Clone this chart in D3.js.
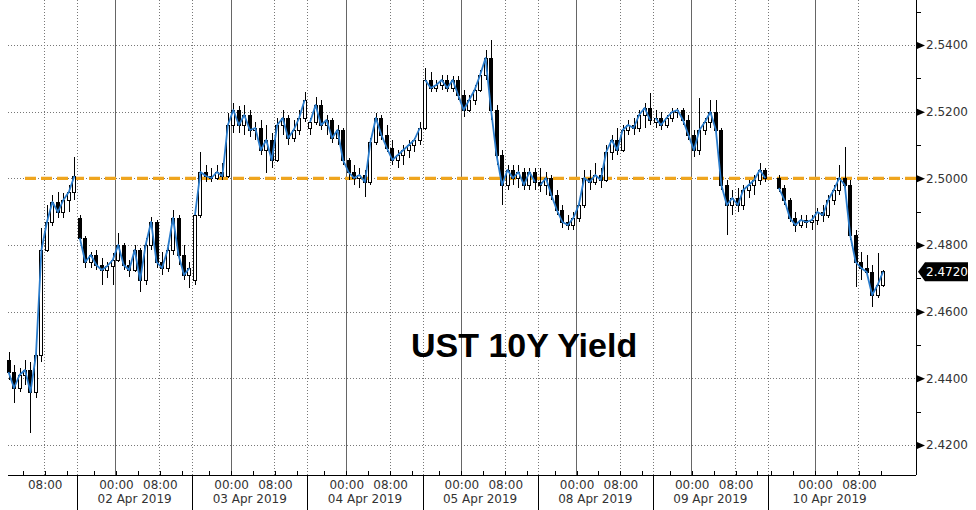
<!DOCTYPE html>
<html><head><meta charset="utf-8">
<script src="https://cdn.jsdelivr.net/npm/d3@7"></script>
<style>body{margin:0;background:#fff}svg{display:block}</style>
</head><body>
<svg id="chart" width="976" height="510"></svg>
<script>
// ---------- data ----------
const sessionLabels = [null,'02 Apr 2019','03 Apr 2019','04 Apr 2019','05 Apr 2019','08 Apr 2019','09 Apr 2019','10 Apr 2019'];
const sessionFrom   = [1.4,-7,-7,-7,-7,-7,-7,-8.5]; // hours vs. midnight of session day
const sessionTo     = [14,14,14,14,14,14,14,14];
const firstBarHour  = [1,-7,-7,-7,-7,-7,-7,-7];
const barCount      = [13,21,21,21,21,21,21,20];
const tailHours = 4.5;

const open = [
2.4455,2.4419,2.4371,2.4410,2.4425,2.4359,2.4470,2.4785,2.4869,2.4929,2.4899,2.4935,2.4959,
2.4881,2.4821,2.4749,2.4770,2.4740,2.4725,2.4737,2.4755,2.4800,2.4740,2.4725,2.4785,2.4695,2.4800,2.4869,2.4749,2.4731,2.4785,2.4881,2.4770,2.4710,
2.4695,2.4890,2.5019,2.5007,2.5001,2.5019,2.5007,2.5160,2.5205,2.5160,2.5190,2.5145,2.5151,2.5085,2.5115,2.5055,2.5160,2.5181,2.5121,2.5145,2.5181,
2.5151,2.5169,2.5220,2.5160,2.5175,2.5121,2.5145,2.5055,2.5019,2.5001,2.5010,2.4989,2.5109,2.5181,2.5130,2.5091,2.5055,2.5070,2.5085,2.5100,2.5115,
2.5151,2.5295,2.5271,2.5280,2.5295,2.5271,2.5295,2.5250,2.5205,2.5235,2.5265,2.5310,2.5361,2.5205,2.5070,2.4980,2.5025,2.5001,2.5019,2.4980,2.5019,
2.4989,2.4980,2.5001,2.4950,2.4905,2.4869,2.4860,2.4881,2.4920,2.5001,2.4989,2.5010,2.4995,2.5079,2.5115,2.5085,2.5145,2.5160,2.5151,2.5190,2.5211,
2.5169,2.5181,2.5160,2.5181,2.5199,2.5205,2.5175,2.5130,2.5085,2.5145,2.5169,2.5199,2.5145,2.4980,2.4920,2.4941,2.4920,2.4965,2.4980,2.4995,2.5025,
2.5001,2.4971,2.4935,2.4881,2.4860,2.4875,2.4869,2.4875,2.4899,2.4890,2.4935,2.4965,2.5001,2.4980,2.4830,2.4749,2.4731,2.4719,2.4650,2.4680];
const high = [
2.4479,2.4440,2.4431,2.4455,2.4449,2.4494,2.4851,2.4920,2.4950,2.4959,2.4956,2.4980,2.5064,
2.4890,2.4827,2.4779,2.4785,2.4761,2.4749,2.4776,2.4836,2.4806,2.4755,2.4800,2.4791,2.4821,2.4884,2.4875,2.4779,2.4800,2.4905,2.4890,2.4800,2.4749,
2.4905,2.5079,2.5040,2.5031,2.5040,2.5046,2.5196,2.5226,2.5217,2.5220,2.5205,2.5169,2.5175,2.5160,2.5136,2.5181,2.5205,2.5190,2.5175,2.5205,2.5259,
2.5181,2.5244,2.5235,2.5190,2.5181,2.5160,2.5151,2.5061,2.5040,2.5031,2.5025,2.5121,2.5196,2.5190,2.5160,2.5115,2.5085,2.5100,2.5115,2.5121,2.5169,
2.5331,2.5319,2.5295,2.5310,2.5310,2.5307,2.5307,2.5265,2.5250,2.5280,2.5325,2.5385,2.5415,2.5220,2.5085,2.5040,2.5040,2.5040,2.5031,2.5031,2.5031,
2.5031,2.5019,2.5010,2.4965,2.4920,2.4890,2.4899,2.4935,2.5025,2.5025,2.5046,2.5031,2.5100,2.5130,2.5151,2.5160,2.5175,2.5181,2.5205,2.5226,2.5256,
2.5205,2.5199,2.5190,2.5211,2.5211,2.5211,2.5190,2.5145,2.5241,2.5181,2.5235,2.5235,2.5151,2.4995,2.4965,2.4971,2.4980,2.4995,2.5010,2.5046,2.5031,
2.5010,2.4980,2.4941,2.4899,2.4890,2.4890,2.4890,2.4911,2.4920,2.4950,2.4980,2.5040,2.5094,2.4995,2.4845,2.4779,2.4770,2.4740,2.4776,2.4725];
const low = [
2.4395,2.4326,2.4359,2.4380,2.4236,2.4341,2.4449,2.4779,2.4857,2.4881,2.4881,2.4899,2.4935,
2.4815,2.4731,2.4731,2.4725,2.4680,2.4701,2.4680,2.4749,2.4725,2.4704,2.4719,2.4659,2.4680,2.4785,2.4731,2.4710,2.4719,2.4770,2.4740,2.4695,2.4671,
2.4680,2.4881,2.4989,2.4989,2.4995,2.4995,2.5001,2.5136,2.5136,2.5130,2.5124,2.5115,2.5070,2.5016,2.5031,2.5049,2.5130,2.5100,2.5109,2.5130,2.5169,
2.5130,2.5160,2.5145,2.5130,2.5106,2.5100,2.5040,2.4995,2.4980,2.4971,2.4944,2.4980,2.5100,2.5115,2.5079,2.5040,2.5031,2.5040,2.5061,2.5079,2.5100,
2.5145,2.5259,2.5259,2.5265,2.5259,2.5259,2.5235,2.5184,2.5199,2.5220,2.5259,2.5295,2.5175,2.5040,2.4920,2.4965,2.4980,2.4971,2.4965,2.4965,2.4965,
2.4959,2.4950,2.4935,2.4890,2.4851,2.4845,2.4845,2.4869,2.4911,2.4965,2.4980,2.4971,2.4989,2.5055,2.5070,2.5079,2.5130,2.5130,2.5139,2.5151,2.5160,
2.5151,2.5145,2.5151,2.5169,2.5181,2.5160,2.5115,2.5064,2.5070,2.5130,2.5151,2.5130,2.4965,2.4830,2.4890,2.4899,2.4905,2.4941,2.4950,2.4980,2.4989,
2.4959,2.4920,2.4869,2.4839,2.4851,2.4851,2.4845,2.4860,2.4869,2.4881,2.4920,2.4950,2.4965,2.4815,2.4674,2.4695,2.4710,2.4614,2.4641,2.4674];
const close = [
2.4419,2.4371,2.4410,2.4425,2.4359,2.4470,2.4785,2.4869,2.4929,2.4899,2.4935,2.4959,2.5007,
2.4821,2.4749,2.4770,2.4740,2.4725,2.4737,2.4755,2.4800,2.4740,2.4725,2.4785,2.4695,2.4800,2.4869,2.4749,2.4731,2.4785,2.4881,2.4770,2.4710,2.4731,
2.4890,2.5019,2.5007,2.5001,2.5019,2.5007,2.5160,2.5205,2.5160,2.5190,2.5145,2.5151,2.5085,2.5115,2.5055,2.5160,2.5181,2.5121,2.5145,2.5181,2.5235,
2.5169,2.5220,2.5160,2.5175,2.5121,2.5145,2.5055,2.5019,2.5001,2.5010,2.4989,2.5109,2.5181,2.5130,2.5091,2.5055,2.5070,2.5085,2.5100,2.5115,2.5151,
2.5295,2.5271,2.5280,2.5295,2.5271,2.5295,2.5250,2.5205,2.5235,2.5265,2.5310,2.5361,2.5205,2.5070,2.4980,2.5025,2.5001,2.5019,2.4980,2.5019,2.4989,
2.4980,2.5001,2.4950,2.4905,2.4869,2.4860,2.4881,2.4920,2.5001,2.4989,2.5010,2.4995,2.5079,2.5115,2.5085,2.5145,2.5160,2.5151,2.5190,2.5211,2.5175,
2.5181,2.5160,2.5181,2.5199,2.5205,2.5175,2.5130,2.5085,2.5145,2.5169,2.5199,2.5145,2.4980,2.4920,2.4941,2.4920,2.4965,2.4980,2.4995,2.5025,2.5001,
2.4971,2.4935,2.4881,2.4860,2.4875,2.4869,2.4875,2.4899,2.4890,2.4935,2.4965,2.5001,2.4980,2.4830,2.4749,2.4731,2.4719,2.4650,2.4680,2.4720];

const yTicks = [2.42,2.44,2.46,2.48,2.50,2.52,2.54];
const yMinorTicks = [2.43,2.45,2.47,2.49,2.51,2.53,2.55];
const refLevel = 2.50;
const lastValue = 2.4720;
const titleText = 'UST 10Y Yield';

// ---------- layout ----------
const W = 976, H = 510;
const plot = {left: 8, right: 916, top: 0, bottom: 475};
const font = "Tahoma, 'DejaVu Sans', sans-serif";

// compressed (gap-free) session time
const offsets = [];
let acc = 0;
sessionFrom.forEach((f, i) => { offsets.push(acc); acc += sessionTo[i] - f; });
const totalHours = acc + tailHours;
const pos = (i, h) => offsets[i] + h - sessionFrom[i];

const x = d3.scaleLinear().domain([0, totalHours]).range([plot.left, plot.right]);
const y = d3.scaleLinear().domain([2.411, 2.5535]).range([plot.bottom, plot.top]);

const bars = [];
let idx = 0;
barCount.forEach((n, s) => {
  for (let k = 0; k < n; k++) {
    const h = firstBarHour[s] + k;
    bars.push({s, t: pos(s, h + 0.5), o: open[idx], h: high[idx], l: low[idx], c: close[idx]});
    idx++;
  }
});

const svg = d3.select('#chart');
svg.append('rect').attr('width', W).attr('height', H).attr('fill', '#fff');

const grid = svg.append('g').attr('shape-rendering', 'crispEdges');
// horizontal dotted grid
grid.selectAll('line.hg').data(yTicks).join('line')
  .attr('x1', plot.left).attr('x2', plot.right)
  .attr('y1', d => Math.round(y(d)) + 0.5).attr('y2', d => Math.round(y(d)) + 0.5)
  .attr('stroke', '#777').attr('stroke-dasharray', '1,2');

// vertical time grid
const vLines = [], minorTicks = [], timeLabels = [];
sessionFrom.forEach((f, i) => {
  for (let h = Math.ceil(f); h <= sessionTo[i]; h++) {
    const hh = ((h % 24) + 24) % 24;
    if (hh % 4 === 0) minorTicks.push(pos(i, h));
    if (hh === 0) { vLines.push({t: pos(i, h), solid: true}); timeLabels.push({t: pos(i, h), txt: '00:00'}); }
    if (hh === 8) { vLines.push({t: pos(i, h), solid: false}); timeLabels.push({t: pos(i, h), txt: '08:00'}); }
  }
  if (i > 0) vLines.push({t: offsets[i], solid: false, boundary: true});
});
grid.selectAll('line.vg').data(vLines).join('line')
  .attr('x1', d => Math.round(x(d.t)) + 0.5).attr('x2', d => Math.round(x(d.t)) + 0.5)
  .attr('y1', plot.top).attr('y2', plot.bottom)
  .attr('stroke', d => d.solid ? '#666' : '#777')
  .attr('stroke-dasharray', d => d.solid ? null : '1,2');

// reference level
svg.append('line')
  .attr('x1', 25).attr('x2', plot.right)
  .attr('y1', y(refLevel)).attr('y2', y(refLevel))
  .attr('stroke', '#EFA51E').attr('stroke-width', 3.2).attr('stroke-dasharray', '11,5');

// candles
const cg = svg.append('g').attr('shape-rendering', 'crispEdges');
cg.selectAll('line.wick').data(bars).join('line')
  .attr('x1', d => Math.round(x(d.t)) + 0.5).attr('x2', d => Math.round(x(d.t)) + 0.5)
  .attr('y1', d => y(d.h)).attr('y2', d => y(d.l))
  .attr('stroke', '#000');
cg.selectAll('rect.body').data(bars).join('rect')
  .attr('x', d => Math.round(x(d.t)) - 1.5)
  .attr('width', 4 - 1)
  .attr('y', d => Math.min(y(d.o), y(d.c)))
  .attr('height', d => Math.max(1, Math.abs(y(d.o) - y(d.c))))
  .attr('fill', d => d.c >= d.o ? '#fff' : '#000')
  .attr('stroke', '#000').attr('stroke-width', 1);

// close line, broken between sessions
const line = d3.line().x(d => x(d.t)).y(d => y(d.c));
d3.groups(bars, d => d.s).forEach(([s, arr]) => {
  svg.append('path').datum(arr).attr('d', line)
    .attr('fill', 'none').attr('stroke', '#2a7ccc').attr('stroke-width', 1.8)
    .attr('stroke-linejoin', 'round');
});

// y axis (right)
const yAxisG = svg.append('g').attr('transform', `translate(${plot.right},0)`);
yAxisG.append('line').attr('x1', 0.5).attr('x2', 0.5).attr('y1', plot.top).attr('y2', plot.bottom)
  .attr('stroke', '#000').attr('shape-rendering', 'crispEdges');
const yMinorAxis = d3.axisRight(y).tickValues(yMinorTicks).tickSize(5).tickFormat('');
yAxisG.append('g').call(yMinorAxis).call(g => g.select('.domain').remove())
  .selectAll('line').attr('stroke', '#000').attr('shape-rendering', 'crispEdges');
const yAxis = d3.axisRight(y).tickValues(yTicks).tickSize(0).tickPadding(10).tickFormat(d3.format('.4f'));
const ya = yAxisG.append('g').call(yAxis);
ya.select('.domain').remove();
ya.selectAll('text').attr('font-family', font).attr('font-size', 12).attr('fill', '#333');
ya.selectAll('.tick').append('path').attr('d', 'M1,-3.5L9,0L1,3.5Z').attr('fill', '#000');

// last value tag
const ly = y(lastValue);
svg.append('path')
  .attr('d', `M${plot.right + 2},${ly}L${plot.right + 9},${ly - 9.5}L${plot.right + 52},${ly - 9.5}L${plot.right + 52},${ly + 9.5}L${plot.right + 9},${ly + 9.5}Z`)
  .attr('fill', '#000');
svg.append('text').attr('x', plot.right + 10).attr('y', ly).attr('dy', '0.36em')
  .attr('font-family', font).attr('font-size', 12).attr('fill', '#fff')
  .text(d3.format('.4f')(lastValue));

// x axis
const xg = svg.append('g').attr('shape-rendering', 'crispEdges');
xg.append('line').attr('x1', plot.left).attr('x2', plot.right)
  .attr('y1', plot.bottom + 0.5).attr('y2', plot.bottom + 0.5).attr('stroke', '#000');
const xAxis = d3.axisTop(x).tickValues(minorTicks).tickSize(5).tickFormat('');
const xa = svg.append('g').attr('transform', `translate(0.5,${plot.bottom + 0.5})`).call(xAxis);
xa.select('.domain').remove();
xa.selectAll('line').attr('stroke', '#000').attr('shape-rendering', 'crispEdges');
// session separators below axis
xg.selectAll('line.sep').data(offsets.slice(1)).join('line')
  .attr('x1', d => Math.round(x(d)) + 0.5).attr('x2', d => Math.round(x(d)) + 0.5)
  .attr('y1', plot.bottom).attr('y2', H).attr('stroke', '#000');
svg.selectAll('text.tl').data(timeLabels).join('text')
  .attr('x', d => x(d.t) + 1).attr('y', 489).attr('text-anchor', 'middle')
  .attr('font-family', font).attr('font-size', 12).attr('fill', '#333').text(d => d.txt);
svg.selectAll('text.dl').data(sessionLabels.map((l, i) => ({l, i})).filter(d => d.l)).join('text')
  .attr('x', d => x(offsets[d.i] + (sessionTo[d.i] - sessionFrom[d.i]) / 2)).attr('y', 503)
  .attr('text-anchor', 'middle')
  .attr('font-family', font).attr('font-size', 12).attr('fill', '#333').text(d => d.l);

// title
svg.append('text').attr('x', 411).attr('y', 357)
  .attr('font-family', "Arial, 'Liberation Sans', sans-serif").attr('font-weight', 'bold')
  .attr('font-size', 34).attr('fill', '#000').text(titleText);
</script>
</body></html>
